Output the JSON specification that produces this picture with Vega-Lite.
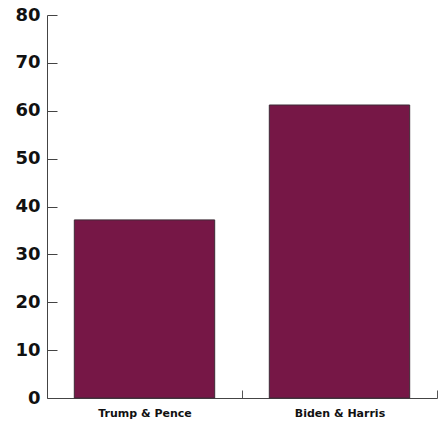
{
  "$schema": "https://vega.github.io/schema/vega-lite/v6.json",
  "autosize": "none",
  "width": 390,
  "height": 383,
  "padding": {"left": 47, "top": 15, "right": 6, "bottom": 25},
  "background": "white",
  "data": {"values": [
    {"ticket": "Trump & Pence", "value": 37.2},
    {"ticket": "Biden & Harris", "value": 61.2}
  ]},
  "mark": {"type": "bar", "color": "#761746", "stroke": "#3d2a36", "strokeWidth": 1},
  "encoding": {
    "x": {"field": "ticket", "type": "nominal", "sort": null,
      "scale": {"paddingInner": 0.28, "paddingOuter": 0.14},
      "axis": {"title": null, "labelAngle": 0, "labelFont": "DejaVu Sans", "labelFontWeight": "bold", "labelFontSize": 11, "labelColor": "#111", "labelPadding": 17,
        "domainColor": "#444", "tickColor": "#555", "tickSize": -8, "tickOffset": 97.5, "labelOffset": -97.5, "grid": false}},
    "y": {"field": "value", "type": "quantitative",
      "scale": {"domain": [0, 80]},
      "axis": {"title": null, "values": [0,10,20,30,40,50,60,70,80], "labelFont": "DejaVu Sans", "labelFontWeight": "bold", "labelFontSize": 18, "labelColor": "#111", "labelPadding": 17,
        "domainColor": "#444", "tickColor": "#444", "tickSize": -10, "grid": false}}
  },
  "config": {"view": {"stroke": null}}
}
